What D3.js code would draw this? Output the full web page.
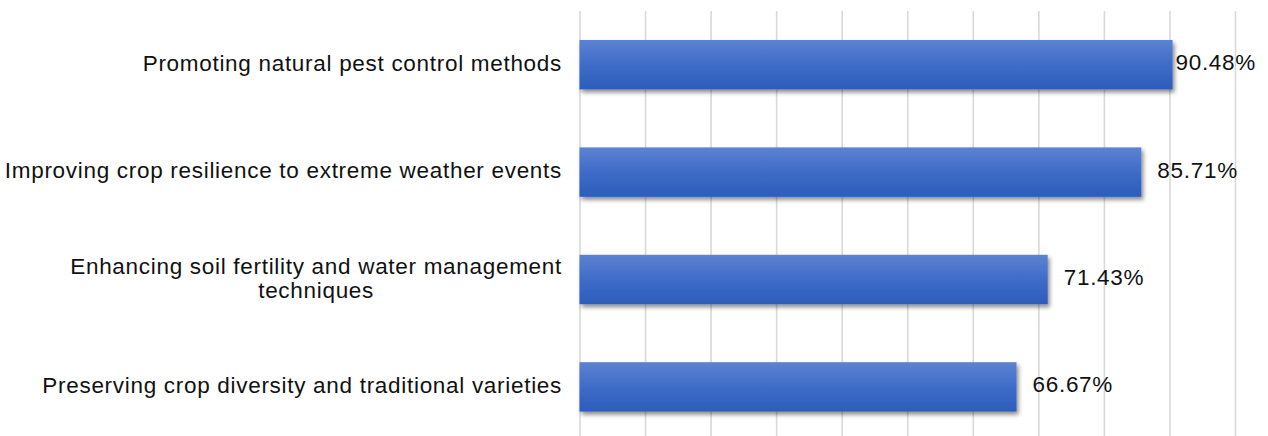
<!DOCTYPE html>
<html>
<head>
<meta charset="utf-8">
<script src="https://cdn.jsdelivr.net/npm/d3@7"></script>
<style>
  html, body { margin: 0; padding: 0; background: #fff; }
  svg { display: block; }
  text { font-family: "Liberation Sans", Arial, Helvetica, sans-serif; fill: #111; letter-spacing: 0.7px; }
</style>
</head>
<body>
<svg id="chart" width="1268" height="436"></svg>
<script>
// Survey categories (top to bottom) and the share of respondents for each
const categories = [
  "Promoting natural pest control methods",
  "Improving crop resilience to extreme weather events",
  "Enhancing soil fertility and water management techniques",
  "Preserving crop diversity and traditional varieties"
];
const values = [90.48, 85.71, 71.43, 66.67];
const gridTicks = [0, 10, 20, 30, 40, 50, 60, 70, 80, 90, 100];

const W = 1268, H = 436;
const plot = { left: 579.5, right: 1235, top: 11, bottom: 440.6 };
const fontSize = 22.5;
const wrapWidth = 575;
const textLift = -2;

const svg = d3.select("#chart");

const x = d3.scaleLinear().domain([0, 100]).range([plot.left, plot.right]);
const y = d3.scaleBand()
  .domain(categories)
  .range([plot.top, plot.bottom])
  .paddingInner(0.54)
  .paddingOuter(0.27);

// Gradient fill and soft shadow for the bars
const defs = svg.append("defs");
const grad = defs.append("linearGradient")
  .attr("id", "barFill").attr("x1", 0).attr("y1", 0).attr("x2", 0).attr("y2", 1);
grad.append("stop").attr("offset", "0%").attr("stop-color", "#5d82d1");
grad.append("stop").attr("offset", "50%").attr("stop-color", "#3f6cc8");
grad.append("stop").attr("offset", "100%").attr("stop-color", "#2d5cbc");

const shadow = defs.append("filter").attr("id", "barShadow")
  .attr("x", "-5%").attr("y", "-20%").attr("width", "115%").attr("height", "150%");
shadow.append("feDropShadow")
  .attr("dx", 2).attr("dy", 3).attr("stdDeviation", 2)
  .attr("flood-color", "#000").attr("flood-opacity", 0.45);

// Vertical gridlines
const grid = svg.append("g")
  .attr("transform", `translate(0,${plot.bottom})`)
  .call(d3.axisBottom(x).tickValues(gridTicks).tickSize(-(plot.bottom - plot.top)).tickFormat(""));
grid.select(".domain").remove();
grid.selectAll(".tick line").attr("stroke", "#d9d9d9").attr("stroke-width", 1.6);

// Bars
svg.append("g").selectAll("rect")
  .data(values)
  .join("rect")
  .attr("x", x(0))
  .attr("y", (d, i) => y(categories[i]))
  .attr("width", d => x(d) - x(0))
  .attr("height", y.bandwidth())
  .attr("fill", "url(#barFill)")
  .attr("filter", "url(#barShadow)");

// Category labels, wrapped and right-aligned against the plot
const labelRight = 562;
const labelG = svg.append("g");
categories.forEach(cat => {
  const t = labelG.append("text")
    .attr("font-size", fontSize)
    .attr("dominant-baseline", "central");
  const words = cat.split(" ");
  const lines = [];
  let line = [];
  const probe = t.append("tspan");
  words.forEach(w => {
    line.push(w);
    probe.text(line.join(" "));
    if (probe.node().getComputedTextLength() > wrapWidth && line.length > 1) {
      line.pop();
      lines.push(line.join(" "));
      line = [w];
    }
  });
  lines.push(line.join(" "));
  probe.remove();

  const widths = lines.map(l => {
    const s = t.append("tspan").text(l);
    const w = s.node().getComputedTextLength();
    s.remove();
    return w;
  });
  const blockW = d3.max(widths);
  const cy = y(cat) + y.bandwidth() / 2 + textLift;
  const lh = 24;
  const cx = labelRight - blockW / 2;
  t.attr("text-anchor", "middle");
  lines.forEach((l, k) => {
    t.append("tspan")
      .attr("x", cx)
      .attr("y", cy + (k - (lines.length - 1) / 2) * lh)
      .text(l);
  });
});

// Value labels beside each bar, kept inside the frame
svg.append("g").selectAll("text")
  .data(values)
  .join("text")
  .attr("font-size", fontSize)
  .attr("dominant-baseline", "central")
  .attr("y", (d, i) => y(categories[i]) + y.bandwidth() / 2 + textLift)
  .text(d => d.toFixed(2) + "%")
  .each(function(d) {
    const w = this.getComputedTextLength();
    d3.select(this).attr("x", Math.min(x(d) + 16, W - 12 - w));
  });
</script>
</body>
</html>
